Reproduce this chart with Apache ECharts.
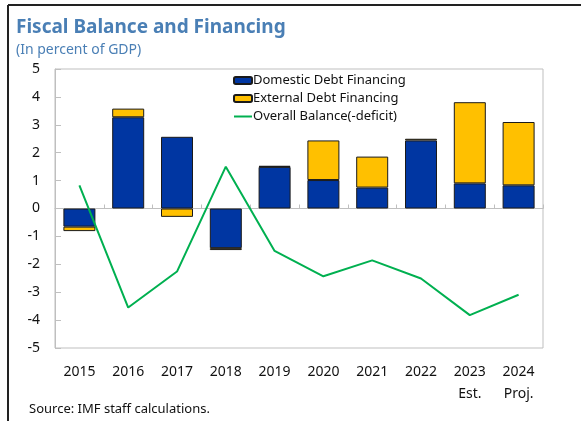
<!DOCTYPE html>
<html>
<head>
<meta charset="utf-8">
<script src="https://cdn.jsdelivr.net/npm/echarts@6/dist/echarts.min.js"></script>
<style>
  html, body { margin: 0; padding: 0; background: #fff; }
  #chart { width: 581px; height: 421px; }
</style>
</head>
<body>
<div id="chart"></div>
<script>
// Fiscal balance and its financing, percent of GDP
const years = ['2015', '2016', '2017', '2018', '2019', '2020', '2021', '2022', '2023\nEst.', '2024\nProj.'];
const domesticFinancing = [-0.65, 3.27, 2.57, -1.42, 1.49, 1.02, 0.75, 2.44, 0.90, 0.83];
const externalFinancing = [-0.16, 0.31, -0.30, -0.07, 0.04, 1.42, 1.11, 0.06, 2.91, 2.27];
const overallBalance = [0.83, -3.55, -2.26, 1.50, -1.52, -2.43, -1.86, -2.51, -3.82, -3.09];
const yTicks = { min: -5, max: 5, step: 1 };

const FONT = '"Noto Sans", "DejaVu Sans", sans-serif';
const GRID = { left: 55, right: 38, top: 69, bottom: 73 };

const chart = echarts.init(document.getElementById('chart'), null, { renderer: 'canvas' });

chart.setOption({
  animation: false,
  backgroundColor: '#ffffff',
  textStyle: { fontFamily: FONT },
  title: {
    text: 'Fiscal Balance and Financing',
    subtext: '(In percent of GDP)',
    left: 11,
    top: 13,
    itemGap: 6,
    textStyle: { fontFamily: FONT, fontSize: 19, fontWeight: 'bold', color: '#4a7fb5' },
    subtextStyle: { fontFamily: FONT, fontSize: 14, color: '#4a7fb5' }
  },
  legend: {
    orient: 'vertical',
    left: 228,
    top: 69,
    itemWidth: 18,
    itemHeight: 7,
    itemGap: 5,
    textStyle: { fontFamily: FONT, fontSize: 13, color: '#111', padding: [0, 0, 0, -4] },
    data: [
      'Domestic Debt Financing',
      'External Debt Financing',
      { name: 'Overall Balance(-deficit)', icon: 'path://M0,0h18v2h-18z' }
    ]
  },
  grid: {
    left: GRID.left, right: GRID.right, top: GRID.top, bottom: GRID.bottom,
    show: true, borderColor: '#bfbfbf', borderWidth: 1, backgroundColor: 'transparent'
  },
  xAxis: [
    {
      type: 'category',
      data: years,
      position: 'bottom',
      axisLine: { show: false, onZero: false },
      axisTick: { show: false },
      axisLabel: { fontFamily: FONT, fontSize: 14, color: '#111', margin: 13, lineHeight: 22 }
    },
    {
      type: 'category',
      data: years,
      position: 'bottom',
      axisLine: { show: true, onZero: true, lineStyle: { color: '#bfbfbf', width: 1 } },
      axisTick: { show: true, inside: true, length: 4, lineStyle: { color: '#bfbfbf' } },
      axisLabel: { show: false }
    }
  ],
  yAxis: {
    type: 'value',
    min: yTicks.min,
    max: yTicks.max,
    interval: yTicks.step,
    axisLine: { show: true, lineStyle: { color: '#bfbfbf' } },
    axisTick: { show: true, inside: true, length: 6, lineStyle: { color: '#bfbfbf' } },
    splitLine: { show: false },
    axisLabel: { fontFamily: FONT, fontSize: 14, color: '#111', margin: 15 }
  },
  series: [
    {
      name: 'Domestic Debt Financing',
      type: 'bar',
      stack: 'financing',
      barWidth: 32,
      data: domesticFinancing,
      itemStyle: { color: '#0036a2', borderColor: '#1a1a1a', borderWidth: 1 }
    },
    {
      name: 'External Debt Financing',
      type: 'bar',
      stack: 'financing',
      barWidth: 32,
      data: externalFinancing,
      itemStyle: { color: '#ffc000', borderColor: '#1a1a1a', borderWidth: 1 }
    },
    {
      name: 'Overall Balance(-deficit)',
      type: 'line',
      data: overallBalance,
      symbol: 'none',
      lineStyle: { color: '#00b050', width: 2 },
      itemStyle: { color: '#00b050' },
      z: 5
    }
  ],
  graphic: [
    { type: 'line', shape: { x1: 8, y1: 5, x2: 581, y2: 5 }, style: { stroke: '#222', lineWidth: 2 }, silent: true },
    { type: 'line', shape: { x1: 8, y1: 5, x2: 8, y2: 421 }, style: { stroke: '#222', lineWidth: 2 }, silent: true },
    {
      type: 'text', left: 29, top: 403, silent: true,
      style: { text: 'Source: IMF staff calculations.', font: '13px ' + FONT, fill: '#111' }
    }
  ]
});
</script>
</body>
</html>
